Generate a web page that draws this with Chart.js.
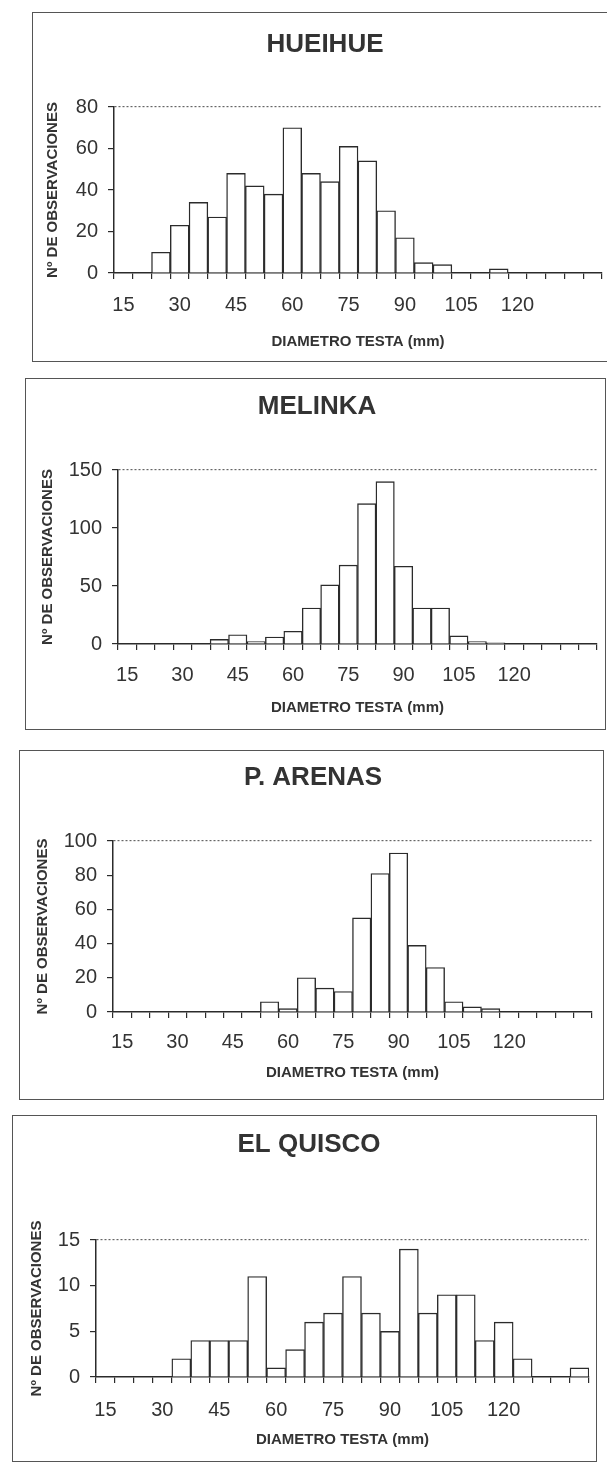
<!DOCTYPE html>
<html>
<head>
<meta charset="utf-8">
<script src="https://cdn.jsdelivr.net/npm/chart.js@4.4.1/dist/chart.umd.min.js"></script>
<style>
  body { margin: 0; background: #fff; width: 607px; height: 1465px; position: relative; overflow: hidden; }
  .panel { position: absolute; border: 1px solid #555; box-sizing: border-box; background: #fff; }
  .panel canvas { position: absolute; left: 0; top: 0; }
</style>
</head>
<body>
<script>
// diameter classes (mm)
const diameters = ['15','20','25','30','35','40','45','50','55','60','65','70','75',
                   '80','85','90','95','100','105','110','115','120','125','130','135','140'];

// number of observations per class
const hueihue  = [0,0,10,23,34,27,48,42,38,70,48,44,61,54,30,17,5,4,0,0,2,0,0,0,0,0];
const melinka  = [0,0,0,0,0,4,8,2,6,11,31,51,68,121,140,67,31,31,7,2,1,0,0,0,0,0];
const pArenas  = [0,0,0,0,0,0,0,0,6,2,20,14,12,55,81,93,39,26,6,3,2,0,0,0,0,0];
const elQuisco = [0,0,0,0,2,4,4,4,11,1,3,6,7,11,7,5,14,7,9,9,4,6,2,0,0,1];

const titles = ['HUEIHUE', 'MELINKA', 'P. ARENAS', 'EL QUISCO'];
const series = [hueihue, melinka, pArenas, elQuisco];
const yMaxes = [80, 150, 100, 15];
const ySteps = [20, 50, 20, 5];

// page layout of each panel (px): frame box, plot area, text centres
const layouts = [
  { box: [32, 12, 609, 362],   plot: [114, 107, 602, 273],   titleX: 325, titleY: 45,   labelY: 305,  axisTitleY: 342,  yTitleX: 53 },
  { box: [25, 378, 606, 730],  plot: [118, 470, 597, 644],   titleX: 317, titleY: 407,  labelY: 675,  axisTitleY: 708,  yTitleX: 48 },
  { box: [19, 750, 604, 1100], plot: [113, 841, 592, 1012],  titleX: 313, titleY: 778,  labelY: 1042, axisTitleY: 1073, yTitleX: 43 },
  { box: [12, 1115, 597, 1462], plot: [96, 1240, 589, 1377], titleX: 309, titleY: 1145, labelY: 1410, axisTitleY: 1440, yTitleX: 37 }
];

const ink = '#2b2b2b';
const textInk = '#333';
Chart.defaults.font.family = "'Liberation Sans', Arial, sans-serif";
Chart.defaults.color = textInk;

series.forEach((values, n) => {
  const lay = layouts[n];
  const [bl, bt, br, bb] = lay.box;
  const div = document.createElement('div');
  div.className = 'panel';
  div.style.left = bl + 'px';
  div.style.top = bt + 'px';
  div.style.width = (br - bl) + 'px';
  div.style.height = (bb - bt) + 'px';
  const W = br - bl - 2, H = bb - bt - 2;
  const canvas = document.createElement('canvas');
  canvas.width = W; canvas.height = H;
  canvas.style.width = W + 'px'; canvas.style.height = H + 'px';
  div.appendChild(canvas);
  document.body.appendChild(div);

  const ox = bl + 1, oy = bt + 1;
  const plotL = lay.plot[0] - ox, plotT = lay.plot[1] - oy;
  const plotR = lay.plot[2] - ox, plotB = lay.plot[3] - oy;
  const padLeft = 2 * (lay.titleX - ox) - plotR; // centres the chart title
  const titleLH = 26 * 1.2;

  new Chart(canvas, {
    type: 'bar',
    data: {
      labels: diameters,
      datasets: [{
        data: values,
        backgroundColor: '#fff',
        borderColor: ink,
        borderWidth: 1.4,
        barPercentage: 1,
        categoryPercentage: 1
      }]
    },
    options: {
      responsive: false,
      animation: false,
      devicePixelRatio: 1,
      layout: { padding: { left: padLeft, right: W - plotR, top: 0, bottom: 0 } },
      plugins: {
        legend: { display: false },
        tooltip: { enabled: false },
        title: {
          display: true,
          text: titles[n],
          color: textInk,
          font: { size: 26, weight: 'bold', lineHeight: 1.2 },
          padding: { top: (lay.titleY - oy) - titleLH / 2, bottom: plotT - (lay.titleY - oy) - titleLH / 2 }
        }
      },
      scales: {
        x: {
          grid: { offset: true, drawOnChartArea: false, tickLength: 6, tickColor: ink, lineWidth: 1.2 },
          border: { color: ink, width: 1.5 },
          ticks: {
            autoSkip: false,
            maxRotation: 0,
            minRotation: 0,
            padding: (lay.labelY - lay.plot[3]) - 6 - 12,
            color: textInk,
            font: { size: 20 },
            callback: (v, i) => (i % 3 === 0 && i <= 21) ? diameters[i] : ''
          },
          title: {
            display: true,
            text: 'DIAMETRO TESTA (mm)',
            color: textInk,
            font: { size: 15, weight: 'bold', lineHeight: 1.2 },
            padding: { top: 0, bottom: (H - (lay.axisTitleY - oy)) - 9 }
          },
          afterFit: s => { s.height = H - plotB; }
        },
        y: {
          min: 0,
          max: yMaxes[n],
          ticks: { stepSize: ySteps[n], padding: 10, color: textInk, font: { size: 20 } },
          grid: {
            color: c => (c.tick && c.tick.value === yMaxes[n]) ? '#666' : 'rgba(0,0,0,0)',
            tickColor: ink,
            tickLength: 6,
            lineWidth: 1.2
          },
          border: { color: ink, width: 1.5, dash: [2, 2] },
          title: {
            display: true,
            text: 'Nº DE OBSERVACIONES',
            color: textInk,
            font: { size: 15, weight: 'bold', lineHeight: 1.2 },
            padding: { top: (lay.yTitleX - ox) - padLeft - 9, bottom: 0 }
          },
          afterFit: s => { s.width = plotL - padLeft; }
        }
      }
    }
  });
});
</script>
</body>
</html>
